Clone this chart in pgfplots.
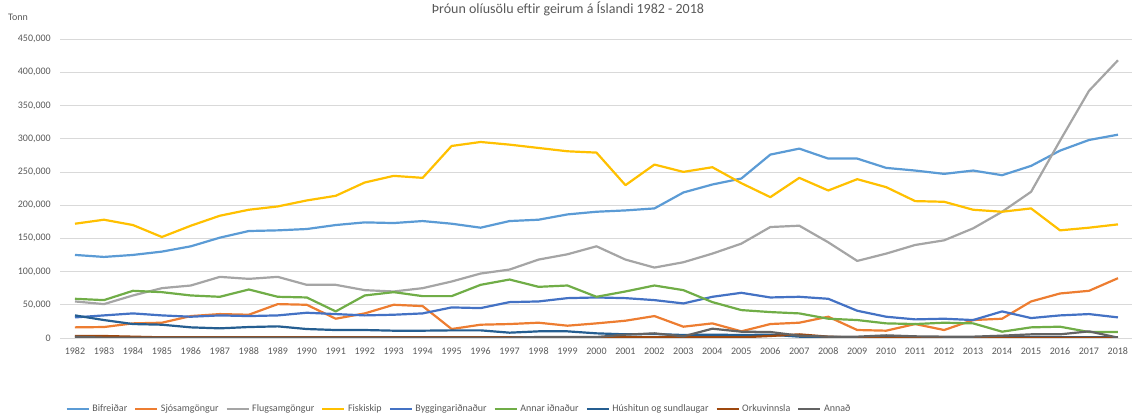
\documentclass[border=0pt]{standalone}
\usepackage{fontspec}
\setmainfont{Carlito}
\usepackage{pgfplots}
\usepackage{pgfplotstable}
\pgfplotsset{compat=1.18}
\definecolor{cBif}{HTML}{5B9BD5}
\definecolor{cSjo}{HTML}{ED7D31}
\definecolor{cFlu}{HTML}{A5A5A5}
\definecolor{cFis}{HTML}{FFC000}
\definecolor{cByg}{HTML}{4472C4}
\definecolor{cAnn}{HTML}{70AD47}
\definecolor{cHus}{HTML}{255E91}
\definecolor{cOrk}{HTML}{9E480E}
\definecolor{cOth}{HTML}{636363}
\definecolor{gridc}{HTML}{D9D9D9}
\definecolor{tickc}{HTML}{595959}

\pgfplotstableread{
year bif    sjo   flu    fis    byg   ann   hus   ork  oth
1982 125000 16000 55000  172000 31000 59000 34000 3000 2000
1983 122000 16500 51000  178000 34000 57000 27000 3000 500
1984 125000 22000 64000  170000 37000 71000 21000 2000 500
1985 130000 23000 75000  152000 34000 69000 20000 1000 500
1986 138000 33000 79000  169000 32000 64000 16000 1000 500
1987 151000 36000 92000  184000 34000 62000 14500 1000 500
1988 161000 35000 89000  193000 33000 73000 16500 1000 500
1989 162000 51000 92000  198000 34000 62000 17500 1000 500
1990 164000 50000 80000  207000 38000 61000 13500 1000 500
1991 170000 29000 80000  214000 36000 40000 12000 1000 500
1992 174000 37000 72000  234000 34000 64000 12000 1000 500
1993 173000 50000 70000  244000 35000 69000 11000 1000 500
1994 176000 48000 75000  241000 37000 63000 11000 1000 500
1995 172000 13500 85000  289000 46000 63000 11500 1000 500
1996 166000 20000 97000  295000 45000 80000 11500 1000 500
1997 176000 21000 103000 291000 54000 88000 8000  1000 500
1998 178000 23000 118000 286000 55000 77000 10000 1000 1500
1999 186000 18500 126000 281000 60000 79000 10000 1000 1500
2000 190000 22000 138000 279000 61000 62000 7000  1000 1500
2001 192000 26000 118000 230000 60000 70000 5500  1000 5000
2002 195000 33000 106000 261000 57000 79000 6000  1000 7000
2003 219000 17000 114000 250000 52000 72000 4500  1000 2500
2004 231000 22000 127000 257000 62000 54000 5000  1000 14000
2005 240000 10000 142000 233000 68000 42000 4500  1000 9500
2006 276000 21000 167000 212000 61000 39000 5000  3000 9000
2007 285000 23000 169000 241000 62000 37000 2000  5500 3500
2008 270000 32000 144000 222000 59000 29000 1500  2000 2000
2009 270000 12000 116000 239000 41000 27000 1000  500  2000
2010 256000 11000 127000 227000 32000 22000 1000  500  4000
2011 252000 21000 140000 206000 28000 21000 1000  500  2500
2012 247000 12000 147000 205000 29000 23000 1000  500  2000
2013 252000 27000 165000 193000 27000 22000 1000  500  2000
2014 245000 29000 190000 190000 40000 9500  1500  500  3500
2015 259000 55000 220000 195000 30000 16000 1500  500  5500
2016 282000 67000 297000 162000 34000 17000 1000  500  5500
2017 298000 71000 372000 166000 36000 9000  1000  500  10000
2018 306000 90000 418000 171000 31000 9000  1000  500  500
}\data

\begin{document}
\begin{tikzpicture}
\path[use as bounding box] (0,0) rectangle (1136pt,419pt);
\begin{axis}[
  at={(60.5pt,81pt)}, anchor=south west,
  scale only axis, width=1072pt, height=299pt,
  xmin=1981.5, xmax=2018.5, ymin=0, ymax=450000,
  xtick={1982,...,2018}, ytick={0,50000,...,450000},
  axis line style={draw=none}, major tick length=0pt,
  ymajorgrids, grid style={color=gridc, line width=0.75pt},
  scaled y ticks=false,
  tick label style={font=\fontsize{10}{12}\selectfont, text=tickc},
  xticklabel style={/pgf/number format/.cd, 1000 sep={}, assume math mode=true, /tikz/.cd, anchor=north, inner sep=0pt, yshift=-9.5pt},
  yticklabel style={/pgf/number format/.cd, fixed, 1000 sep={,}, assume math mode=true, /tikz/.cd, anchor=east, inner sep=0pt, xshift=-9.5pt},
  legend columns=9,
  legend style={at={(0.3708,-0.237)}, anchor=center, draw=none, fill=none,
    font=\fontsize{10}{12}\selectfont, text=tickc,
    nodes={inner sep=0pt},
    /tikz/every odd column/.append style={column sep=2.5pt},
    /tikz/every even column/.append style={column sep=7pt}},
  legend image code/.code={\draw[#1] (0pt,0pt) -- (22pt,0pt);},
  every axis plot/.append style={line width=2.2pt, line join=round, no markers},
]
\addplot[cBif] table[x=year, y=bif] {\data};
\addplot[cSjo] table[x=year, y=sjo] {\data};
\addplot[cFlu] table[x=year, y=flu] {\data};
\addplot[cFis] table[x=year, y=fis] {\data};
\addplot[cByg] table[x=year, y=byg] {\data};
\addplot[cAnn] table[x=year, y=ann] {\data};
\addplot[cHus] table[x=year, y=hus] {\data};
\addplot[cOrk] table[x=year, y=ork] {\data};
\addplot[cOth] table[x=year, y=oth] {\data};
\legend{Bifreiðar, Sjósamgöngur, Flugsamgöngur, Fiskiskip, Byggingariðnaður, Annar iðnaður, Húshitun og sundlaugar, Orkuvinnsla, Annað}
\end{axis}
\node[anchor=base, font=\fontsize{14}{16}\selectfont, text=tickc] at (568pt,405pt) {Þróun olíusölu eftir geirum á Íslandi 1982 - 2018};
\node[anchor=west, inner sep=0pt, font=\fontsize{10}{12}\selectfont, text=tickc] at (8pt,402pt) {Tonn};
\end{tikzpicture}
\end{document}
